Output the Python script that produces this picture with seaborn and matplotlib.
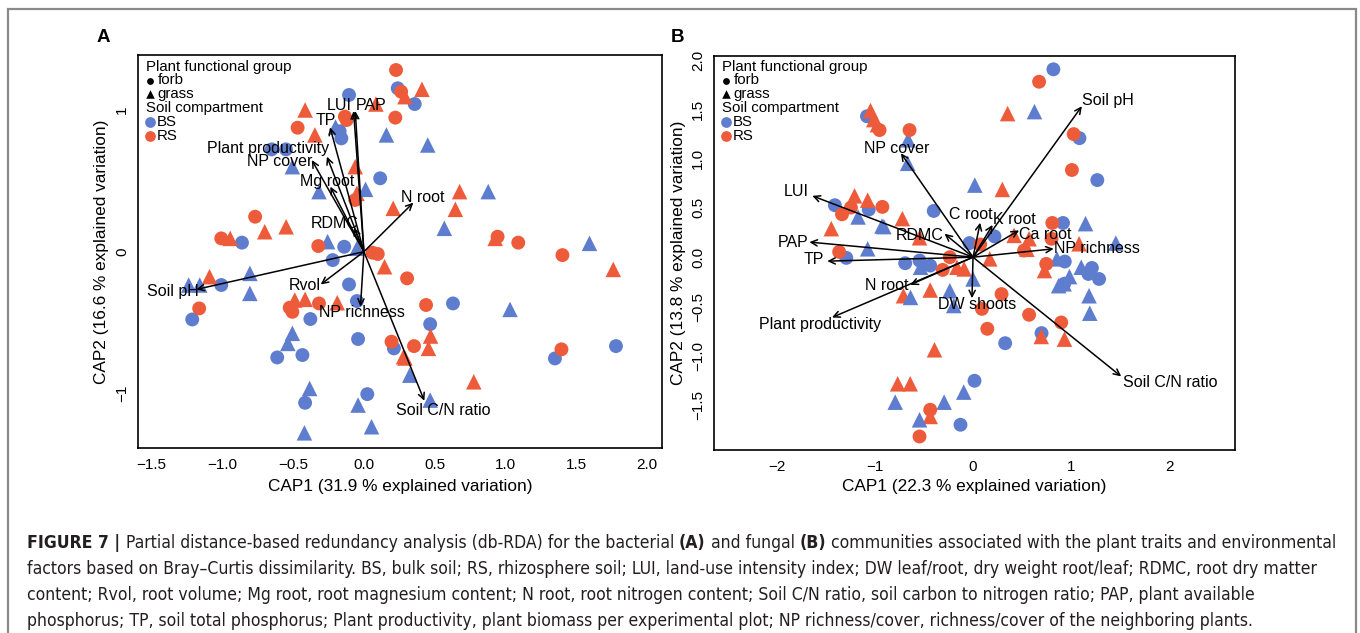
import numpy as np
import pandas as pd
import seaborn as sns
import matplotlib.pyplot as plt
from matplotlib.patches import Rectangle

# ---------------- panel A : bacterial community (site scores) ----------------
a_bs_forb_x = [-0.105, 0.239, 0.359, -0.171, -0.159, -0.651, -0.55, 0.115, -0.861, -0.139, -0.22, -1.007, -0.105,
               -1.212, -0.049, -0.378, 0.629, 0.468, 0.212, -0.434, -0.612, -0.041, 1.349, 1.78, 0.024, -0.415]
a_bs_forb_y = [1.106, 1.153, 1.042, 0.85, 0.80, 0.722, 0.722, 0.518, 0.064, 0.035, -0.059, -0.235, -0.231,
               -0.478, -0.348, -0.475, -0.365, -0.511, -0.682, -0.729, -0.746, -0.616, -0.753, -0.666, -1.005, -1.066]
a_bs_grass_x = [0.159, 0.451, -0.505, -0.317, 0.012, 0.878, 0.568, -0.256, -0.049, 1.593, -0.805, -1.237, -1.159,
                -0.805, 1.032, -0.505, -0.537, 0.324, -0.383, -0.041, 0.468, 0.054, -0.42, -0.2]
a_bs_grass_y = [0.824, 0.753, 0.6, 0.424, 0.44, 0.424, 0.165, 0.071, 0.024, 0.059, -0.153, -0.235, -0.235,
                -0.294, -0.407, -0.576, -0.647, -0.871, -0.965, -1.082, -1.047, -1.235, -1.278, 0.88]
a_rs_forb_x = [0.227, 0.263, -0.134, -0.122, -0.468, 0.222, -0.061, -0.768, -1.007, -0.322, 0.061, 0.098, 0.944,
               1.09, 1.402, 0.305, -1.163, -0.524, -0.505, -0.317, 0.439, 0.354, 0.195, 1.395]
a_rs_forb_y = [1.282, 1.129, 0.953, 0.929, 0.875, 0.946, 0.365, 0.247, 0.094, 0.04, -0.007, -0.016, 0.106,
               0.064, -0.024, -0.188, -0.4, -0.395, -0.424, -0.365, -0.376, -0.666, -0.635, -0.689]
a_rs_grass_x = [0.41, 0.29, 0.085, -0.415, -0.346, -0.061, -0.049, 0.207, 0.676, 0.646, -0.7, -0.549, -0.944,
                0.927, 1.761, 0.146, -1.09, -0.488, -0.415, -0.188, 0.471, 0.456, 0.28, 0.29, 0.776]
a_rs_grass_y = [1.146, 1.094, 1.042, 1.0, 0.824, 0.6, 0.412, 0.306, 0.424, 0.299, 0.141, 0.176, 0.094,
                0.094, -0.125, -0.106, -0.176, -0.341, -0.336, -0.36, -0.595, -0.682, -0.741, -0.75, -0.918]

# panel A : fitted environmental vectors
a_vec_lab = ["LUI", "PAP", "TP", "Plant productivity", "NP cover", "Mg root", "RDMC", "N root",
             "Soil pH", "Rvol", "NP richness", "Soil C/N ratio"]
a_vec_x = [-0.073, -0.061, -0.239, -0.261, -0.368, -0.237, -0.07, 0.349, -1.183, -0.305, -0.024, 0.427]
a_vec_y = [0.993, 0.993, 0.878, 0.671, 0.647, 0.459, 0.17, 0.346, -0.266, -0.231, -0.388, -1.052]
a_lab_x = [-0.171, 0.049, -0.268, -0.676, -0.593, -0.256, -0.207, 0.415, -1.349, -0.42, -0.017, 0.561]
a_lab_y = [1.035, 1.035, 0.925, 0.729, 0.64, 0.494, 0.2, 0.384, -0.282, -0.235, -0.431, -1.118]

# ---------------- panel B : fungal community ----------------
b_bs_forb_x = [0.82, -1.082, 1.086, 1.268, -1.41, -1.064, -0.401, -1.293, -0.036, 0.219, 0.918, 0.936, 1.213,
               1.177, 1.286, -0.692, -0.546, -0.437, 0.699, 0.328, 0.015, -0.128, 0.93]
b_bs_forb_y = [1.905, 1.429, 1.207, 0.782, 0.527, 0.483, 0.469, -0.007, 0.143, 0.211, 0.347, -0.044, -0.109,
               -0.17, -0.221, -0.061, -0.034, -0.085, -0.77, -0.872, -1.253, -1.699, -0.27]
b_bs_grass_x = [0.627, -0.663, -0.667, 0.018, -1.173, -0.929, -0.91, 1.148, 1.457, -1.075, 0.856, 1.104, 0.984,
                0.874, 0.929, 1.184, -0.535, 0.0, -0.638, -0.237, -0.197, 1.191, -0.095, -0.794, -0.295, -0.546]
b_bs_grass_y = [1.476, 1.19, 0.952, 0.731, 0.408, 0.316, 0.31, 0.34, 0.143, 0.085, -0.017, -0.102, -0.197,
                -0.289, -0.27, -0.391, -0.102, -0.221, -0.408, -0.34, -0.49, -0.568, -1.368, -1.47, -1.47, -1.649]
b_rs_forb_x = [0.674, -0.954, -0.648, 1.027, 1.009, -1.246, -0.925, -1.337, -1.366, 0.073, 0.809, 0.801, 0.521,
               0.747, -0.237, -0.31, 0.291, 0.091, 0.572, 0.9, 0.146, -0.437, -0.546]
b_rs_forb_y = [1.779, 1.289, 1.289, 1.248, 0.884, 0.503, 0.51, 0.435, 0.054, 0.129, 0.347, 0.187, 0.068,
               -0.068, 0.0, -0.129, -0.374, -0.524, -0.584, -0.662, -0.726, -1.547, -1.818]
b_rs_grass_x = [0.353, -1.046, -1.013, -0.976, 0.299, -1.209, -1.075, -0.721, -1.446, -0.546, 0.419, 0.572, 1.082,
                0.729, -0.164, -0.091, 0.171, -0.71, -0.437, 0.696, 0.933, -0.393, -0.769, -0.641, -0.437, 0.55]
b_rs_grass_y = [1.456, 1.486, 1.395, 1.344, 0.687, 0.622, 0.578, 0.391, 0.289, 0.197, 0.221, 0.187, 0.136,
                -0.136, -0.102, -0.119, -0.017, -0.391, -0.333, -0.804, -0.831, -0.939, -1.284, -1.284, -1.615, 0.08]

b_vec_lab = ["Soil pH", "NP cover", "LUI", "C root", "K root", "Ca root", "RDMC", "PAP", "TP", "NP richness",
             "N root", "Plant productivity", "DW shoots", "Soil C/N ratio"]
b_vec_x = [1.111, -0.736, -1.64, 0.073, 0.2, 0.47, -0.291, -1.67, -1.487, 0.823, -0.641, -1.439, -0.011, 1.512]
b_vec_y = [1.531, 1.054, 0.622, 0.35, 0.327, 0.272, 0.238, 0.153, -0.04, 0.085, -0.28, -0.611, -0.416, -1.209]
b_lab_x = [1.373, -0.776, -1.803, -0.018, 0.426, 0.74, -0.546, -1.84, -1.62, 1.264, -0.885, -1.556, 0.044, 2.01]
b_lab_y = [1.588, 1.099, 0.667, 0.432, 0.385, 0.235, 0.224, 0.153, -0.027, 0.085, -0.287, -0.686, -0.483, -1.267]

a_xticks = [-1.5, -1.0, -0.5, 0.0, 0.5, 1.0, 1.5, 2.0]
a_yticks = [-1, 0, 1]
b_xticks = [-2, -1, 0, 1, 2]
b_yticks = [-1.5, -1.0, -0.5, 0.0, 0.5, 1.0, 1.5, 2.0]

caption = [
    [("FIGURE 7 | ", "bold"), ("Partial distance-based redundancy analysis (db-RDA) for the bacterial ", "normal"),
     ("(A)", "bold"), (" and fungal ", "normal"), ("(B)", "bold"),
     (" communities associated with the plant traits and environmental", "normal")],
    [("factors based on Bray\u2013Curtis dissimilarity. BS, bulk soil; RS, rhizosphere soil; LUI, land-use intensity "
      "index; DW leaf/root, dry weight root/leaf; RDMC, root dry matter", "normal")],
    [("content; Rvol, root volume; Mg root, root magnesium content; N root, root nitrogen content; Soil C/N ratio, "
      "soil carbon to nitrogen ratio; PAP, plant available", "normal")],
    [("phosphorus; TP, soil total phosphorus; Plant productivity, plant biomass per experimental plot; NP "
      "richness/cover, richness/cover of the neighboring plants.", "normal")],
]

BLUE = "#5E7DCF"
RED = "#EE5B3B"

sns.set_style("white")
plt.rcParams['font.family'] = ['Liberation Sans', 'DejaVu Sans']
plt.rcParams.update({"text.color": "black", "axes.labelcolor": "black",
                     "xtick.color": "black", "ytick.color": "black", "axes.unicode_minus": True})

W, H = 1360, 633
fig = plt.figure(figsize=(W / 100, H / 100), dpi=100)
fig.patch.set_facecolor("white")


def frame(df_parts):
    rows = []
    for comp, grp, xs, ys in df_parts:
        for x, y in zip(xs, ys):
            rows.append({"CAP1": x, "CAP2": y, "comp": comp, "group": grp})
    return pd.DataFrame(rows)


def panel(rect, df, vx, vy, vlab, lx, ly, xlim, ylim, xticks, yticks, xfmt, yfmt, xlab, ylab, tag, tagx):
    l, t, r, b = rect
    ax = fig.add_axes([l / W, 1 - b / H, (r - l) / W, (b - t) / H])
    sns.scatterplot(data=df, x="CAP1", y="CAP2", hue="comp", style="group", size="group",
                    palette={"BS": BLUE, "RS": RED}, markers={"forb": "o", "grass": "^"},
                    sizes={"forb": 100, "grass": 125}, linewidth=0, legend=False, ax=ax, zorder=2)
    for x, y in zip(vx, vy):
        ax.annotate("", xy=(x, y), xytext=(0, 0), zorder=3,
                    arrowprops=dict(arrowstyle="->,head_length=0.45,head_width=0.22", color="black",
                                    lw=1.1, shrinkA=0, shrinkB=0, mutation_scale=10))
    for x, y, s in zip(lx, ly, vlab):
        ax.text(x, y, s, ha="center", va="center", fontsize=11.5, color="black", zorder=4)
    ax.set_xlim(*xlim)
    ax.set_ylim(*ylim)
    ax.set_xticks(xticks)
    ax.set_xticklabels([xfmt(v).replace("-", "\u2212") for v in xticks])
    ax.set_yticks(yticks)
    ax.set_yticklabels([yfmt(v).replace("-", "\u2212") for v in yticks], rotation=90, va="center")
    ax.tick_params(direction="out", length=5, width=0.9, labelsize=11, colors="black", pad=1.5)
    ax.tick_params(axis="x", pad=2.5)
    for sp in ax.spines.values():
        sp.set_visible(True)
        sp.set_linewidth(1.2)
        sp.set_color("black")
    ax.set_xlabel(xlab, fontsize=12.4, va="center")
    ax.set_ylabel(ylab, fontsize=12.4, va="center")
    ax.xaxis.set_label_coords(((l + r) / 2 - l) / (r - l), -(487 - b) / (b - t))
    ax.yaxis.set_label_coords(-(l - tagx[1]) / (r - l), 0.5)
    fig.text(tagx[0] / W, 1 - 37 / H, tag, fontsize=13.5, fontweight="bold", ha="center", va="center")

    # legend block, R style
    def ax_xy(px, py):
        return (px - l) / (r - l), 1 - (py - t) / (b - t)
    x0 = l + 8.5
    entries = [("Plant functional group", None, None, 0, 67),
               ("forb", "o", "black", 11, 80.5),
               ("grass", "^", "black", 11, 94),
               ("Soil compartment", None, None, 0, 108),
               ("BS", "o", BLUE, 10, 122),
               ("RS", "o", RED, 10, 136)]
    for txt, mk, col, dx, py in entries:
        tx, ty = ax_xy(x0 + dx, py)
        ax.text(tx, ty, txt, transform=ax.transAxes, fontsize=10.8, ha="left", va="center", zorder=5)
        if mk is not None:
            mx, my = ax_xy(x0 + 3.5, py)
            size = 60 if col != "black" else (24 if mk == "o" else 38)
            ax.scatter([mx], [my], marker=mk, s=size, color=col, linewidth=0,
                       transform=ax.transAxes, clip_on=False, zorder=5)
    return ax


df_a = frame([("BS", "forb", a_bs_forb_x, a_bs_forb_y), ("RS", "grass", a_rs_grass_x, a_rs_grass_y),
              ("BS", "grass", a_bs_grass_x, a_bs_grass_y), ("RS", "forb", a_rs_forb_x, a_rs_forb_y)])
df_b = frame([("BS", "forb", b_bs_forb_x, b_bs_forb_y), ("RS", "grass", b_rs_grass_x, b_rs_grass_y),
              ("BS", "grass", b_bs_grass_x, b_bs_grass_y), ("RS", "forb", b_rs_forb_x, b_rs_forb_y)])

panel((138, 55, 662, 448), df_a, a_vec_x, a_vec_y, a_vec_lab, a_lab_x, a_lab_y,
      (-1.595, 2.105), (-1.385, 1.388), a_xticks, a_yticks,
      lambda v: f"{v:.1f}", lambda v: f"{v:d}",
      "CAP1 (31.9 % explained variation)", "CAP2 (16.6 % explained variation)", "A", (103, 102))
panel((714, 56, 1235, 450), df_b, b_vec_x, b_vec_y, b_vec_lab, b_lab_x, b_lab_y,
      (-2.643, 2.673), (-1.955, 2.04), b_xticks, b_yticks,
      lambda v: f"{v:d}", lambda v: f"{v:.1f}",
      "CAP1 (22.3 % explained variation)", "CAP2 (13.8 % explained variation)", "B", (678, 678))

# outer frame of the figure box
fig.add_artist(Rectangle((8 / W, -0.05), (1356 - 8) / W, (H - 8.5) / H + 0.05, transform=fig.transFigure,
                         fill=False, edgecolor="#8a8a8a", linewidth=1.6, clip_on=False))

# caption, fitted to the text block width
renderer = fig.canvas.get_renderer()


def draw_caption(size):
    arts, widths = [], []
    for i, segs in enumerate(caption):
        x = 27
        y = 543 + i * 26
        for txt, w in segs:
            t = fig.text(x / W, 1 - y / H, txt, fontsize=size, fontweight=w, ha="left", va="center",
                         family=["DejaVu Sans"], fontstretch="condensed", color="#231f20")
            x += t.get_window_extent(renderer).width
            arts.append(t)
        widths.append(x - 27)
    return arts, widths


arts, widths = draw_caption(11)
scale = 1311 / widths[0]
for t in arts:
    t.remove()
draw_caption(11 * scale)

fig.savefig("out.png", dpi=100, facecolor="white")
